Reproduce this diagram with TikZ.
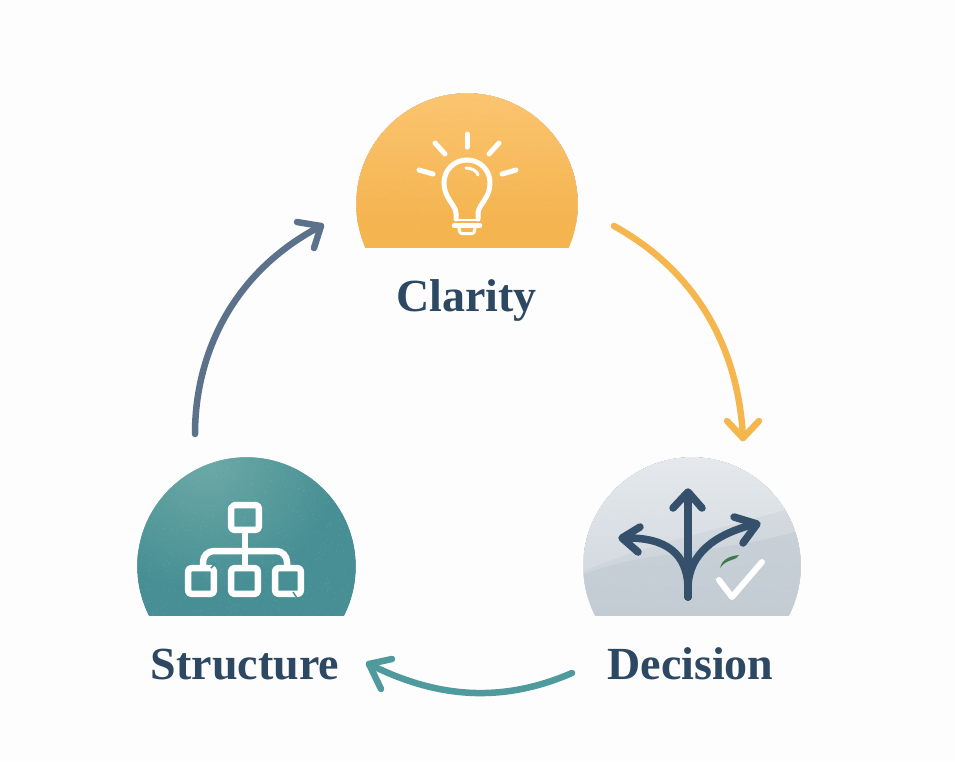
\documentclass[tikz,border=0pt]{standalone}
\usepackage{fontspec}
\setmainfont{Liberation Serif}
\definecolor{bgc}{HTML}{FDFDFD}
\definecolor{ink}{HTML}{2D4862}
\definecolor{amberA}{HTML}{FBC46F}
\definecolor{amberB}{HTML}{F4B44F}
\definecolor{tealA}{HTML}{74AFAA}
\definecolor{tealB}{HTML}{478F94}
\definecolor{greyA}{HTML}{E5E9ED}
\definecolor{greyB}{HTML}{CDD4DB}
\definecolor{greyC}{HTML}{BFC8D1}
\definecolor{arrowAmber}{HTML}{F5B64E}
\definecolor{arrowSlate}{HTML}{5B728A}
\definecolor{arrowTeal}{HTML}{4F9A9C}
\definecolor{iconNavy}{HTML}{34506B}
\definecolor{checkGreen}{HTML}{3F7A50}
\newcommand{\grainfill}[5]{%
  \pgfmathsetseed{#5}%
  \foreach \gi in {1,...,1000}{%
    \pgfmathsetmacro{\gx}{#1+#3*(2*rnd-1)}%
    \pgfmathsetmacro{\gy}{#2+#3*(2*rnd-1)}%
    \fill[#4,opacity=.08] (\gx,\gy) circle[radius=.7];
  }}
\tikzset{
  x=1pt,y=-1pt,
  cyc/.style={line width=6.5pt,line cap=round,line join=round},
  whiteicon/.style={draw=white,line width=5pt,line cap=round,line join=round},
  roadicon/.style={draw=iconNavy,line width=7.5pt,line cap=round,line join=round},
  lab/.style={font=\bfseries\fontsize{46}{46}\selectfont,text=ink,inner sep=0pt,anchor=base},
}
\begin{document}
\begin{tikzpicture}
\useasboundingbox (0,0) rectangle (955,761);
\fill[bgc] (0,0) rectangle (955,761);

% Clarity dome
\begin{scope}
\clip (300,80) rectangle (640,248);
\clip (467,204) circle[radius=111];
\fill[top color=amberA,bottom color=amberB] (340,93) rectangle (600,225);
\fill[amberB] (340,224) rectangle (600,248);
\grainfill{467}{170}{111}{white}{11}
\end{scope}
\draw[bgc,line width=1.2pt] (467,204) circle[radius=111.6];
% bulb
\draw[whiteicon] (467,134)--(467,147);
\draw[whiteicon] (435,143)--(445,154);
\draw[whiteicon] (499,143)--(489,154);
\draw[whiteicon] (419,170)--(433,174);
\draw[whiteicon] (516,170)--(502,174);
\draw[whiteicon] (456,219)--(456,213) .. controls (455,204) and (444,198) .. (444,183)
  .. controls (444,170) and (454,160) .. (467,160)
  .. controls (480,160) and (490,170) .. (490,183)
  .. controls (490,198) and (479,204) .. (478,213) -- (478,219);
\draw[whiteicon,line width=3pt] (466,168) .. controls (472,168) and (477,171) .. (478,175);
\draw[whiteicon,line width=2pt] (456,220)--(478,220);
\draw[whiteicon,line width=4.5pt] (454,225.5)--(480,225.5);
\draw[whiteicon,line width=3pt,rounded corners=1.5pt] (459,228)--(460,233.5)--(474,233.5)--(475,228);

% Structure dome
\begin{scope}
\clip (100,440) rectangle (400,615);
\clip (246.5,566.5) circle[radius=109.5];
\fill[tealB] (130,450) rectangle (360,620);
\shade[inner color=tealA!85!tealB,outer color=tealB] (205,455) circle[radius=135];
\grainfill{246}{530}{110}{white}{23}
\end{scope}
\draw[bgc,line width=1.2pt] (246.5,566.5) circle[radius=110.1];
% hierarchy
\begin{scope}[whiteicon,line width=6.5pt]
\draw[rounded corners=3pt] (231.2,505.2) rectangle (258.8,529.8);
\draw (245,532)--(245,566);
\draw[rounded corners=11pt] (203,565)--(203,551)--(287,551)--(287,565);
\draw[rounded corners=3pt] (188.2,568.2) rectangle (213.8,593.8);
\draw[rounded corners=3pt] (231.2,568.2) rectangle (257.8,593.8);
\draw[rounded corners=3pt] (275.2,568.2) rectangle (300.8,593.8);
\end{scope}
\fill[tealB!88!white] (226,501) -- (234,501) -- (226,508) -- cycle;
\draw[tealB,line width=1.5pt] (211,568) -- (216,563);
\draw[tealB,line width=1.5pt] (293,592) -- (297,598);

% Decision dome
\begin{scope}
\clip (560,440) rectangle (820,615);
\clip (692,566) circle[radius=109];
\fill[top color=greyA,bottom color=greyB] (570,457) rectangle (815,615);
\fill[greyC,opacity=.3] (583,572) .. controls (640,545) and (720,530) .. (801,505) -- (801,620) -- (583,620) -- cycle;
\fill[greyC,opacity=.5] (583,575) .. controls (640,550) and (720,555) .. (801,530) -- (801,620) -- (583,620) -- cycle;
\grainfill{692}{540}{109}{white}{37}
\end{scope}
\draw[bgc,line width=1.2pt] (692,566) circle[radius=109.6];
% fork icon
\draw[roadicon] (688,597)--(688,494);
\draw[roadicon] (673,508)--(688,492)--(702,508);
\draw[roadicon] (688,597) -- (688,585) .. controls (686,555) and (668,537) .. (624,538);
\draw[roadicon] (640,527)--(622,538)--(638,552);
\draw[roadicon] (688,597) -- (688,585) .. controls (690,555) and (712,535) .. (755,524);
\draw[roadicon] (734,517)--(757,524)--(743,543);
\fill[checkGreen] (720,568) .. controls (722,559) and (730,556) .. (739,555) .. controls (737,561) and (727,558) .. (720,568) -- cycle;
\draw[draw=white,line width=6pt,line cap=round,line join=round] (719,580)--(732,597)--(762,562);

% Labels
\node[lab] (clarity) at (466.5,311) {Clarity};
\node[lab] (structure) at (245,679) {Structure};
\node[lab] (decision) at (690.5,679) {Decision};

% Connectors
\coordinate (a1) at (614,226);
\coordinate (a2) at (743,438);
\coordinate (b1) at (572,673);
\coordinate (b2) at (369,664);
\coordinate (c1) at (195,434);
\coordinate (c2) at (321,226);
\draw[cyc,arrowAmber] (a1) .. controls (690,268) and (738,340) .. (a2);
\draw[cyc,arrowAmber] (727,421)--(a2)--(759,421);
\draw[cyc,arrowTeal] (b1) .. controls (505,702) and (440,700) .. (b2);
\draw[cyc,arrowTeal] (392,659)--(b2)--(381,689);
\draw[cyc,arrowSlate] (c1) .. controls (195,355) and (232,272) .. (c2);
\draw[cyc,arrowSlate] (297,222)--(c2)--(314,248);
\end{tikzpicture}
\end{document}
